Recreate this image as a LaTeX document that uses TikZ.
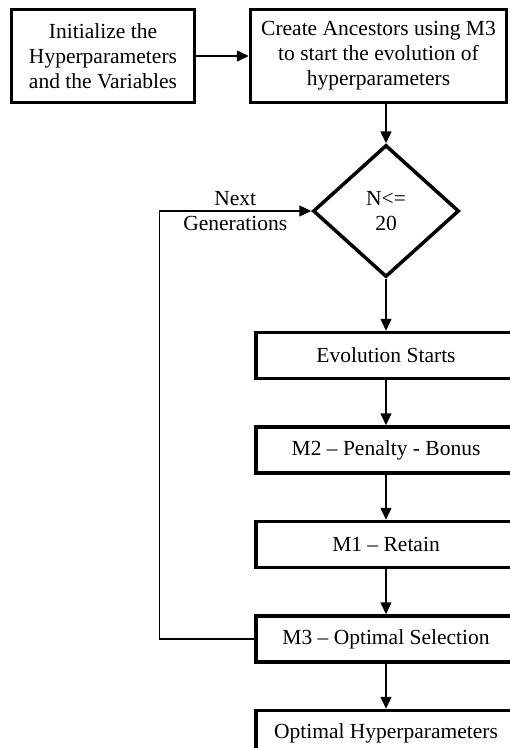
\documentclass[tikz,border=0pt]{standalone}
\usepackage{fontspec}
\setmainfont{Liberation Serif}
\usetikzlibrary{arrows.meta,positioning,shapes.geometric}

\begin{document}
\begin{tikzpicture}[
    x=1pt, y=-1pt,
    node distance=45pt,
    every node/.style={font=\fontsize{21.5}{25}\selectfont},
    box/.style={draw, line width=3.5pt, align=center, minimum height=93pt},
    stage/.style={draw, line width=3.5pt, minimum width=260pt, minimum height=46pt},
    decision/.style={draw, diamond, line width=3.5pt, align=center, minimum width=146pt, minimum height=132pt, inner sep=0pt},
    flow/.style={-{Triangle[length=12pt,width=11pt]}, line width=1.5pt},
    feedback/.style={-{Triangle[length=12pt,width=11pt]}, line width=1.2pt}
]
\useasboundingbox (0,0) rectangle (510,748);
\clip (0,0) rectangle (510,748);
\node[box, minimum width=183pt] (init) at (103,56) {Initialize the\\Hyperparameters\\and the Variables};
\node[box, minimum width=256pt] (ancestors) at (378.5,56) {Create Ancestors using M3\\to start the evolution of\\hyperparameters};
\node[decision] (check) at (386,211) {N<=\\20};
\node[stage, below=52pt of check] (evolve) {Evolution Starts};
\node[stage, below=of evolve] (penalty) {M2 -- Penalty - Bonus};
\node[stage, below=of penalty] (retain) {M1 -- Retain};
\node[stage, below=of retain] (select) {M3 -- Optimal Selection};
\node[stage, below=of select] (optimal) {Optimal Hyperparameters};
\draw[flow] (init) -- (ancestors);
\draw[flow] (ancestors.south -| check.north) -- (check.north);
\draw[flow] (check) -- (evolve);
\draw[flow] (evolve) -- (penalty);
\draw[flow] (penalty) -- (retain);
\draw[flow] (retain) -- (select);
\draw[flow] (select) -- (optimal);
\draw[feedback] (select.west) -- ++(-95,0) |- node[pos=0.75, align=center] {Next\\Generations} (check.west);
\end{tikzpicture}
\end{document}
